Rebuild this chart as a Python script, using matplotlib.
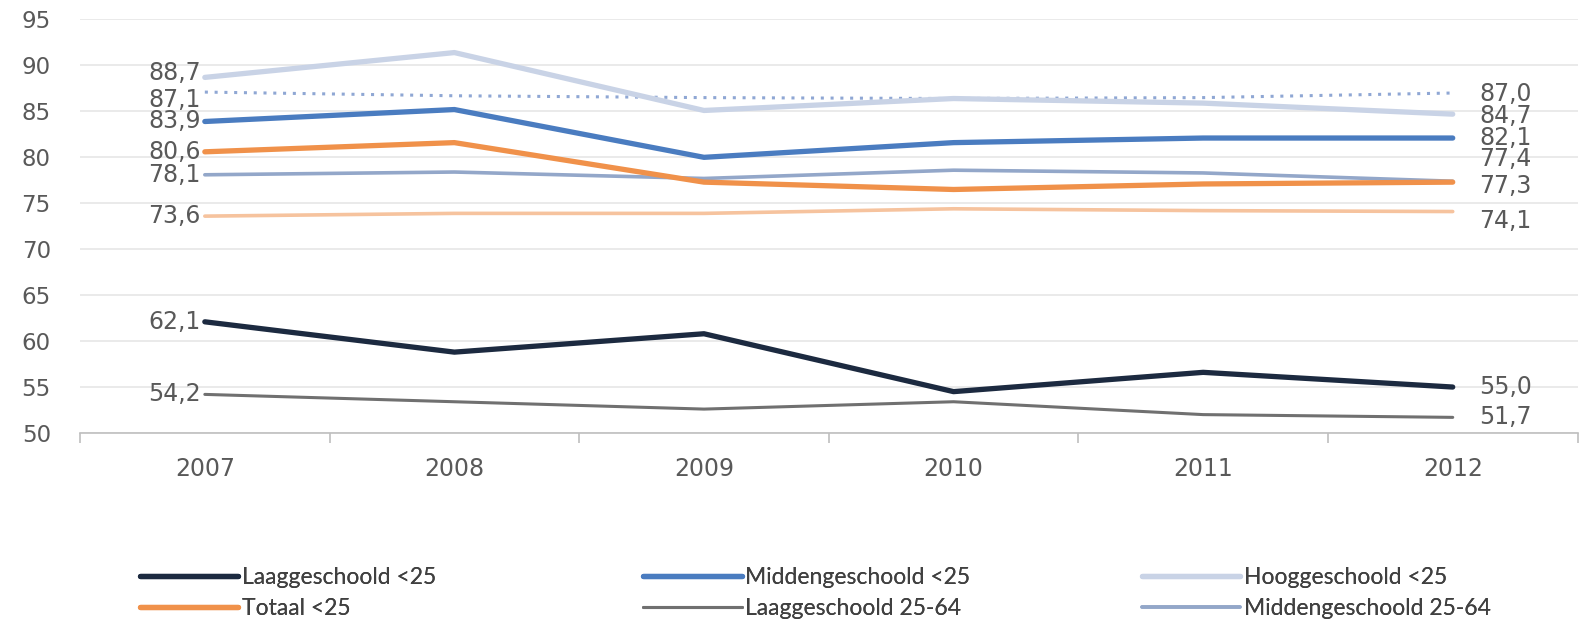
import matplotlib
matplotlib.use("Agg")
import matplotlib.pyplot as plt

plt.rcParams['font.family'] = ['DejaVu Sans']

years = ["2007", "2008", "2009", "2010", "2011", "2012"]

laag_lt25 = [62.1, 58.8, 60.8, 54.5, 56.6, 55.0]
midden_lt25 = [83.9, 85.2, 80.0, 81.6, 82.1, 82.1]
hoog_lt25 = [88.7, 91.4, 85.1, 86.4, 85.9, 84.7]
totaal_lt25 = [80.6, 81.6, 77.3, 76.5, 77.1, 77.3]
laag_2564 = [54.2, 53.4, 52.6, 53.4, 52.0, 51.7]
midden_2564 = [78.1, 78.4, 77.7, 78.6, 78.3, 77.4]
hoog_2564 = [87.1, 86.7, 86.5, 86.4, 86.5, 87.0]
totaal_2564 = [73.6, 73.9, 73.9, 74.4, 74.2, 74.1]

names = ["Laaggeschoold <25", "Middengeschoold <25", "Hooggeschoold <25",
         "Totaal <25", "Laaggeschoold 25-64", "Middengeschoold 25-64",
         "Hooggeschoold 25-64", "Totaal 25-64"]
series = [laag_lt25, midden_lt25, hoog_lt25, totaal_lt25,
          laag_2564, midden_2564, hoog_2564, totaal_2564]
colors = ["#1c2a40", "#4a7cc0", "#c9d3e6", "#f0914a",
          "#707070", "#93a7c9", "#8fa7d4", "#f6c39e"]
widths = [3.8, 3.8, 3.8, 3.8, 2.2, 2.6, 2.2, 2.6]
styles = ['-', '-', '-', '-', '-', '-', ':', '-']
zorders = [8, 7, 3, 6, 5, 4, 2, 1]

# vertical offsets (points) of the first / last value labels
left_dy = [0, 0, 3, 0, 0, 0, -6, 0]
right_dy = [0, 0, -1, -3, 0, 16, -1, -6.5]

fig = plt.figure(figsize=(15.88, 6.23), dpi=100)
ax = fig.add_axes([0.0504, 0.305, 0.943, 0.6637])

x = list(range(len(years)))
handles = []
for i, (nm, s) in enumerate(zip(names, series)):
    ls = styles[i]
    kw = dict(dashes=(1, 2.2)) if ls == ':' else {}
    ln, = ax.plot(x, s, color=colors[i], lw=widths[i], linestyle=ls,
                  solid_capstyle='round', zorder=zorders[i], label=nm, **kw)
    handles.append(ln)
    ax.annotate(f"{s[0]:.1f}".replace('.', ','), (x[0], s[0]),
                xytext=(-3, left_dy[i]), textcoords='offset points',
                ha='right', va='center', fontsize=17, color='#595959')
    ax.annotate(f"{s[-1]:.1f}".replace('.', ','), (x[-1], s[-1]),
                xytext=(19, right_dy[i]), textcoords='offset points',
                ha='left', va='center', fontsize=17, color='#595959')

ax.set_xlim(-0.5, len(years) - 0.5)
ax.set_ylim(50, 95)
ax.set_yticks(range(50, 96, 5))
ax.set_xticks(x)
ax.set_xticklabels(years)
ax.set_xticks([v - 0.5 for v in range(len(years) + 1)], minor=True)
ax.tick_params(axis='x', which='major', length=0, pad=17, labelsize=17, labelcolor='#595959')
ax.tick_params(axis='x', which='minor', length=7, color='#bfbfbf', width=1.2)
ax.tick_params(axis='y', length=0, pad=21, labelsize=16.5, labelcolor='#595959')
ax.grid(axis='y', color='#e6e6e6', lw=1.2)
ax.set_axisbelow(True)
for sp in ['top', 'right', 'left']:
    ax.spines[sp].set_visible(False)
ax.spines['bottom'].set_color('#bfbfbf')
ax.spines['bottom'].set_linewidth(1.2)

# legend: three columns, two rows
legend_cols = [[0, 3], [1, 4], [2, 5]]
col_x = [0.088, 0.405, 0.719]
for cx, col in zip(col_x, legend_cols):
    leg = fig.legend([handles[k] for k in col], [names[k] for k in col],
                     loc='center left', bbox_to_anchor=(cx, 0.048),
                     frameon=False, borderpad=0, borderaxespad=0,
                     prop={'family': 'Lato', 'size': 16.5},
                     handlelength=4.3, handletextpad=0.15,
                     labelspacing=0.45, labelcolor='#404040')
    for lh in leg.get_lines():
        lh.set_linestyle('-')
    fig.add_artist(leg)

fig.savefig("out.png", dpi=100)
